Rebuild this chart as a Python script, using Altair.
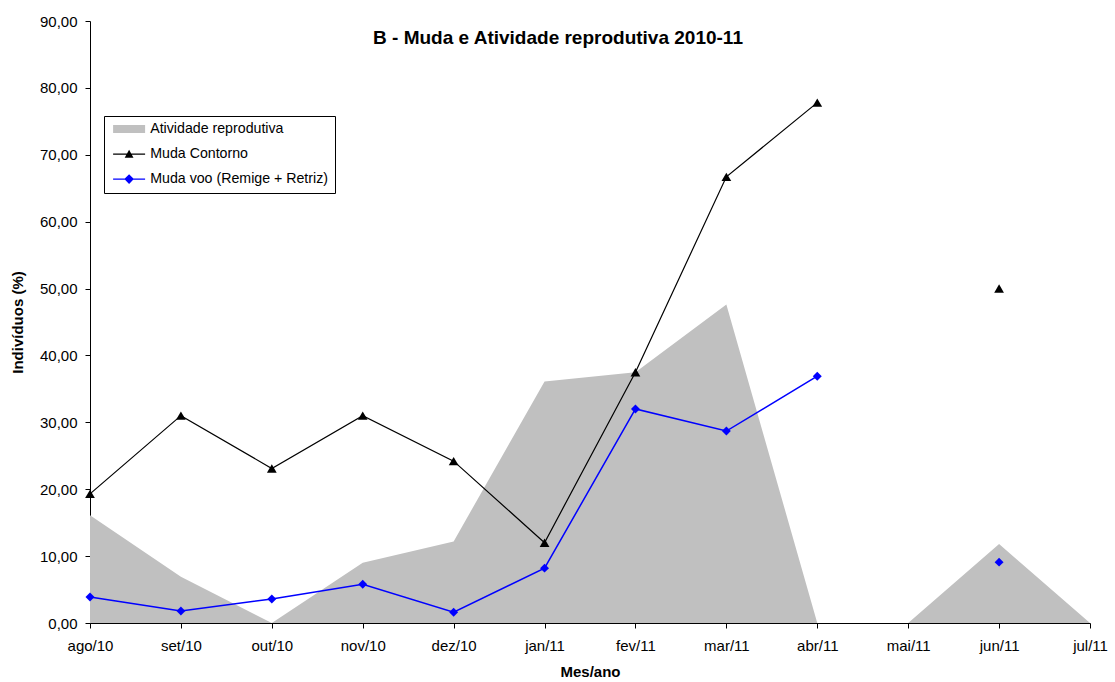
import altair as alt
import pandas as pd

months = ["ago/10", "set/10", "out/10", "nov/10", "dez/10", "jan/11",
          "fev/11", "mar/11", "abr/11", "mai/11", "jun/11", "jul/11"]
atividade = [16.1, 6.9, 0.0, 9.0, 12.2, 36.1, 37.5, 47.6, 0.0, 0.0, 11.8, 0.0]
contorno = [19.3, 31.0, 23.1, 31.0, 24.2, 12.0, 37.5, 66.7, 77.8, None, 50.0, None]
voo = [3.9, 1.8, 3.6, 5.8, 1.6, 8.2, 32.0, 28.7, 36.9, None, 9.1, None]

series_names = ["Atividade reprodutiva", "Muda Contorno", "Muda voo (Remige + Retriz)"]
title_text = "B - Muda e Atividade reprodutiva 2010-11"

FONT = "Liberation Sans"


def segments(vals):
    out, s = [], 0
    for v in vals:
        if v is None:
            s += 1
        out.append(s)
    return out


df_area = pd.DataFrame({"mes": months, "valor": atividade, "serie": series_names[0]})
df_c = pd.DataFrame({"mes": months, "valor": contorno, "serie": series_names[1],
                     "seg": segments(contorno)}).dropna(subset=["valor"])
df_v = pd.DataFrame({"mes": months, "valor": voo, "serie": series_names[2],
                     "seg": segments(voo)}).dropna(subset=["valor"])
df_all = pd.concat([df_area, df_c, df_v], ignore_index=True)

x_enc = alt.X("mes:N", sort=months,
              scale=alt.Scale(type="point", padding=0, domain=months),
              axis=alt.Axis(title="Mes/ano", labelAngle=0, labelPadding=10,
                            titlePadding=11, tickSize=5))
y_enc = alt.Y("valor:Q",
              scale=alt.Scale(domain=[0, 90], nice=False, zero=True),
              axis=alt.Axis(title="Indivíduos (%)", values=list(range(0, 91, 10)),
                            labelExpr="replace(format(datum.value, '.2f'), '.', ',')",
                            labelPadding=8, titlePadding=14, tickSize=5))

area = alt.Chart(df_area).mark_area(color="#c0c0c0", opacity=1, interpolate="linear").encode(
    x=x_enc, y=y_enc)

line_c = alt.Chart(df_c).mark_line(color="black", strokeWidth=1.2).encode(
    x=alt.X("mes:N", sort=months), y="valor:Q", detail="seg:N")
pts_c = alt.Chart(df_c).mark_point(shape="triangle-up", filled=True, color="black",
                                   size=95, opacity=1).encode(
    x=alt.X("mes:N", sort=months), y="valor:Q")

line_v = alt.Chart(df_v).mark_line(color="#0000ff", strokeWidth=1.5).encode(
    x=alt.X("mes:N", sort=months), y="valor:Q", detail="seg:N")
pts_v = alt.Chart(df_v).mark_point(shape="diamond", filled=True, color="#0000ff",
                                   size=80, opacity=1).encode(
    x=alt.X("mes:N", sort=months), y="valor:Q")

# legend symbols: filled custom paths, units of sqrt(size)/2 = 4 px
legend_shapes = [
    "M-4,-1H4V1H-4Z",
    "M-4,-0.14H4V0.14H-4ZM0,-1.1L1.1,0.9L-1.1,0.9Z",
    "M-4,-0.17H4V0.17H-4ZM0,-1.2L1.2,0L0,1.2L-1.2,0Z",
]
legend_colors = ["#c0c0c0", "black", "#0000ff"]

legend = alt.Legend(title=None, orient="none", legendX=14, legendY=95,
                    labelFont=FONT, labelFontSize=14.2, labelColor="black",
                    symbolSize=64, symbolStrokeWidth=0, labelOffset=14,
                    symbolOffset=12, rowPadding=10, padding=6, symbolOpacity=1,
                    strokeColor="black", fillColor="white", labelLimit=400)

# legend-only layer: no rows drawn, scales carry the explicit domains
legend_layer = alt.Chart(df_all).transform_filter("false").mark_point(
    filled=True, opacity=1).encode(
    x=alt.X("mes:N", sort=months), y="valor:Q",
    color=alt.Color("serie:N", scale=alt.Scale(domain=series_names, range=legend_colors),
                    legend=legend),
    shape=alt.Shape("serie:N", scale=alt.Scale(domain=series_names, range=legend_shapes),
                    legend=legend),
)

title_layer = alt.Chart(pd.DataFrame({"t": [title_text]})).mark_text(
    font=FONT, fontSize=19, fontWeight="bold", color="black", baseline="middle",
    align="center").encode(text="t:N", x=alt.value(468), y=alt.value(17))

chart = alt.layer(area, line_c, pts_c, line_v, pts_v, legend_layer, title_layer).properties(
    width=1000, height=602,
    autosize=alt.AutoSizeParams(type="none"),
    padding={"left": 90, "top": 21, "right": 25, "bottom": 59},
    background="white",
).configure_view(stroke=None).configure_axis(
    grid=False, domainColor="black", tickColor="black", labelColor="black",
    titleColor="black", labelFont=FONT, titleFont=FONT, labelFontSize=15,
    titleFontSize=15, titleFontWeight="bold", domainWidth=1, tickWidth=1,
)

chart.save("out.html", embed_options={"renderer": "svg", "actions": False})
